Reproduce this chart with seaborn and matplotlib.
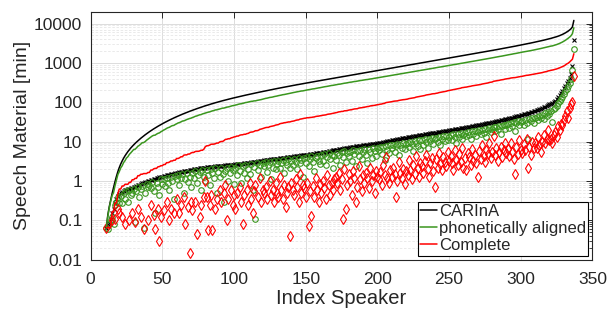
import numpy as np
import pandas as pd
import seaborn as sns
import matplotlib.pyplot as plt
from matplotlib.ticker import FixedLocator, LogLocator, NullFormatter, FuncFormatter

# speakers 1..10 have no material, first speaker shown is index 11
first_speaker = 11

# minutes per speaker, sorted by CARInA amount (rows of 10 speakers)
carina = [
    0.065, 0.07, 0.085, 0.11, 0.15, 0.2, 0.27, 0.35, 0.42, 0.47,
    0.5, 0.53, 0.56, 0.58, 0.6, 0.62, 0.64, 0.66, 0.68, 0.7,
    0.72, 0.75, 0.78, 0.81, 0.84, 0.87, 0.9, 0.93, 0.96, 0.99,
    1.02, 1.05, 1.08, 1.11, 1.14, 1.17, 1.2, 1.23, 1.27, 1.3,
    1.33, 1.36, 1.39, 1.42, 1.45, 1.48, 1.51, 1.54, 1.57, 1.6,
    1.63, 1.66, 1.69, 1.72, 1.75, 1.78, 1.81, 1.84, 1.87, 1.9,
    1.93, 1.96, 1.99, 2.02, 2.05, 2.08, 2.11, 2.14, 2.17, 2.2,
    2.22, 2.24, 2.26, 2.28, 2.3, 2.32, 2.34, 2.36, 2.38, 2.4,
    2.42, 2.44, 2.46, 2.48, 2.5, 2.52, 2.54, 2.56, 2.58, 2.6,
    2.63, 2.66, 2.69, 2.72, 2.75, 2.78, 2.81, 2.84, 2.87, 2.9,
    2.93, 2.96, 3.0, 3.04, 3.08, 3.12, 3.16, 3.2, 3.24, 3.28,
    3.32, 3.36, 3.4, 3.44, 3.48, 3.52, 3.56, 3.6, 3.64, 3.68,
    3.72, 3.76, 3.8, 3.84, 3.88, 3.92, 3.96, 4.0, 4.05, 4.1,
    4.15, 4.2, 4.25, 4.3, 4.35, 4.4, 4.45, 4.5, 4.55, 4.6,
    4.65, 4.7, 4.76, 4.82, 4.88, 4.94, 5.0, 5.07, 5.14, 5.21,
    5.28, 5.35, 5.43, 5.51, 5.6, 5.69, 5.78, 5.87, 5.96, 6.05,
    6.15, 6.25, 6.35, 6.45, 6.55, 6.65, 6.75, 6.85, 6.95, 7.05,
    7.15, 7.25, 7.35, 7.45, 7.55, 7.65, 7.75, 7.85, 7.95, 8.05,
    8.15, 8.25, 8.35, 8.45, 8.55, 8.65, 8.75, 8.85, 8.95, 9.05,
    9.2, 9.35, 9.5, 9.65, 9.8, 9.95, 10.1, 10.3, 10.5, 10.7,
    10.9, 11.1, 11.3, 11.5, 11.7, 11.9, 12.1, 12.3, 12.5, 12.7,
    12.9, 13.1, 13.3, 13.5, 13.7, 13.9, 14.1, 14.3, 14.5, 14.7,
    14.9, 15.1, 15.3, 15.5, 15.7, 15.9, 16.1, 16.3, 16.5, 16.7,
    16.9, 17.1, 17.3, 17.5, 17.8, 18.1, 18.4, 18.7, 19.0, 19.3,
    19.6, 19.9, 20.2, 20.5, 20.8, 21.1, 21.4, 21.7, 22.0, 22.3,
    22.6, 23.0, 23.4, 23.8, 24.2, 24.6, 25.0, 25.4, 25.8, 26.2,
    26.6, 27.0, 27.5, 28.0, 28.5, 29.0, 29.5, 30.0, 30.5, 31.0,
    31.6, 32.2, 32.8, 33.4, 34.0, 34.7, 35.4, 36.1, 36.8, 37.5,
    38.3, 39.1, 40.0, 41.0, 42.0, 43.0, 44.0, 45.0, 46.0, 47.0,
    48, 49, 50, 51, 52.5, 54, 55.5, 57, 58.5, 60,
    62, 64, 66, 68, 71, 74, 77, 80, 84, 88,
    93, 98, 104, 110, 120, 135, 150, 170, 195, 225,
    260, 300, 350, 420, 520, 850, 3800,
]

aligned = [
    0.065, 0.06, 0.08, 0.1, 0.12, 0.083, 0.24, 0.3, 0.4, 0.28,
    0.42, 0.28, 0.5, 0.35, 0.55, 0.3, 0.6, 0.45, 0.5, 0.62,
    0.09, 0.55, 0.7, 0.4, 0.62, 0.75, 0.063, 0.5, 0.85, 0.7,
    0.8, 0.65, 0.95, 0.55, 0.15, 0.9, 0.72, 0.45, 1.1, 0.85,
    1.1, 0.75, 1.2, 0.9, 0.6, 1.3, 1.0, 0.35, 1.35, 1.15,
    1.4, 0.8, 1.2, 1.5, 0.5, 1.1, 1.6, 0.95, 1.3, 0.7,
    1.6, 1.2, 1.8, 0.9, 1.4, 1.7, 0.6, 1.9, 1.3, 1.0,
    1.9, 1.4, 0.8, 2.0, 1.6, 1.2, 2.1, 0.5, 1.7, 1.3,
    2.1, 1.5, 0.3, 1.8, 2.2, 1.0, 1.6, 2.3, 1.9, 0.85,
    2.2, 1.4, 2.5, 1.8, 0.9, 2.4, 1.6, 2.6, 1.2, 2.0,
    1.5, 2.7, 0.6, 2.3, 0.11, 2.8, 1.9, 2.5, 1.3, 2.9,
    2.4, 3.0, 1.7, 2.6, 3.1, 1.1, 2.2, 3.3, 2.0, 2.7,
    3.2, 2.1, 2.9, 3.4, 1.6, 3.0, 2.5, 3.6, 2.2, 3.3,
    2.6, 3.7, 3.1, 2.0, 3.9, 2.8, 3.4, 1.3, 3.8, 2.9,
    4.0, 2.4, 3.6, 4.2, 3.0, 1.8, 3.9, 4.4, 3.2, 2.7,
    4.5, 3.3, 4.8, 2.5, 4.1, 5.0, 3.6, 4.7, 2.2, 4.3,
    3.5, 5.2, 4.6, 2.6, 5.5, 4.0, 5.8, 3.0, 5.1, 4.4,
    5.6, 3.2, 6.0, 4.8, 2.4, 5.9, 4.2, 6.3, 3.6, 5.3,
    6.4, 4.5, 2.8, 6.6, 5.4, 3.9, 6.9, 5.8, 4.3, 7.0,
    6.0, 7.4, 4.9, 7.1, 3.4, 7.8, 6.2, 5.2, 8.0, 6.8,
    8.3, 5.6, 7.6, 8.8, 4.6, 8.1, 7.0, 9.2, 6.4, 8.6,
    9.5, 7.2, 10.0, 8.7, 5.8, 10.3, 9.0, 7.8, 10.8, 6.5,
    11.0, 8.4, 12.0, 9.8, 7.0, 11.5, 10.2, 12.6, 8.9, 11.8,
    12.4, 10.0, 13.0, 8.0, 12.0, 13.6, 10.6, 14.0, 11.2, 13.2,
    14.5, 11.0, 15.2, 12.8, 9.0, 15.8, 13.5, 16.4, 12.0, 14.8,
    16.8, 13.6, 17.5, 15.0, 11.5, 18.2, 16.0, 19.0, 14.2, 17.6,
    19.5, 15.5, 20.2, 17.0, 21.0, 12.8, 19.8, 22.0, 18.0, 21.5,
    23.0, 18.5, 24.0, 20.5, 25.0, 16.0, 24.5, 26.5, 21.0, 27.0,
    28.0, 22.0, 29.5, 25.0, 31.0, 19.0, 30.5, 33.0, 26.0, 32.0,
    34.0, 27.0, 35.5, 30.0, 12.0, 37.0, 33.0, 39.0, 29.0, 40.0,
    42, 36, 45, 40, 48, 38, 52, 46, 55, 50,
    60, 32, 68, 72, 80, 95, 105, 120, 140, 165,
    190, 220, 260, 300, 380, 650, 2300,
]

# 0 = no complete recording for that speaker
complete = [
    0.065, 0, 0, 0, 0.1, 0, 0.11, 0, 0.2, 0.15,
    0, 0.12, 0, 0.08, 0, 0, 0.1, 0, 0.15, 0,
    0.09, 0, 0.2, 0, 0.12, 0, 0.06, 0, 0, 0.1,
    0, 0.25, 0, 0.14, 0.06, 0, 0.2, 0.03, 0.12, 0,
    0.18, 0, 0.3, 0, 0.1, 0.2, 0, 0.15, 0, 0.35,
    0, 0.15, 0.25, 0, 0.4, 0.08, 0, 0.22, 0.015, 0.3,
    0.18, 0, 0.3, 0.045, 0, 0.12, 0.25, 0, 0.4, 1.0,
    0.4, 0.056, 0.25, 0.45, 0.056, 0, 0.2, 0.35, 0, 0.6,
    0.3, 0, 0.5, 0.8, 0.1, 0.35, 0, 0.6, 0.25, 0.45,
    0.2, 0.5, 0, 0.7, 0.3, 0.08, 0.45, 0, 0.6, 0.25,
    0.9, 0.35, 0.15, 0.55, 0.8, 0, 0.4, 1.2, 0.3, 0.6,
    0.5, 0.7, 0.35, 0, 1.0, 0.45, 0.6, 0.3, 0.9, 0.5,
    0.4, 1.3, 0.6, 0.35, 0.8, 0.22, 0.5, 0.7, 0.04, 0.9,
    0.6, 0.45, 1.1, 0.7, 0.3, 1.5, 0.5, 0.8, 0.65, 0.4,
    0.9, 0.07, 0.55, 0.13, 0.75, 0.4, 1.2, 0.6, 0.3, 0.85,
    0.5, 1.0, 0.65, 0.35, 1.4, 0.8, 0.45, 0.9, 0.6, 1.1,
    1.3, 0.9, 1.6, 0.6, 1.1, 0.11, 2.0, 0.2, 0.8, 1.5,
    1.0, 0.45, 1.8, 1.2, 0.3, 0.7, 2.4, 1.1, 0.55, 1.4,
    0.9, 1.6, 1.2, 0.65, 2.2, 1.0, 1.4, 0.5, 1.8, 1.3,
    1.1, 1.7, 0.8, 2.5, 1.4, 4.0, 1.2, 0.9, 1.9, 1.3,
    2.2, 1.5, 0.4, 1.0, 3.0, 1.6, 1.2, 2.0, 0.85, 1.8,
    1.4, 3.5, 1.9, 1.1, 2.6, 1.5, 4.2, 2.1, 1.3, 2.8,
    2.4, 1.6, 3.2, 4.5, 2.0, 1.3, 2.9, 3.8, 1.8, 0.7,
    3.6, 2.2, 5.0, 2.7, 1.9, 4.1, 3.0, 2.4, 5.5, 3.3,
    4.2, 2.8, 1.9, 6.0, 3.5, 2.5, 4.8, 3.1, 7.0, 2.2,
    3.8, 1.9, 5.2, 4.0, 2.6, 6.5, 3.3, 4.6, 2.9, 1.25,
    5.8, 3.6, 8.0, 4.4, 3.0, 6.2, 4.9, 9.0, 3.8, 5.3,
    14.0, 4.6, 6.8, 3.2, 5.5, 7.4, 4.0, 6.0, 9.5, 5.0,
    6.5, 4.2, 9.0, 5.5, 3.6, 1.5, 7.2, 4.8, 11.0, 6.0,
    5.0, 8.5, 6.2, 12.0, 2.2, 7.5, 4.6, 10.0, 6.8, 9.0,
    7.0, 13.0, 8.0, 5.5, 10.0, 15.0, 9.0, 12.0, 20.0, 11.0,
    12, 9, 15, 18, 13, 25, 20, 28, 26, 35,
    45, 60, 40, 70, 90, 100, 470,
]

series = ["carina", "aligned", "complete"]
labels = ["CARInA", "phonetically aligned", "Complete"]
colors = ["black", "#3a961e", "red"]
markers = ["x", "o", "d"]

df = pd.DataFrame({"speaker": np.arange(first_speaker, first_speaker + len(carina)),
                   "carina": carina, "aligned": aligned, "complete": complete})

sns.set_style("white")
plt.rcParams["font.family"] = ["Liberation Sans", "DejaVu Sans"]
txt = "#262626"

fig = plt.figure(figsize=(6.1, 3.09), dpi=100)
ax = fig.add_axes([0.1485, 0.1595, 0.8228, 0.8026])
ax.set_yscale("log")

# single speakers as markers
msize = {"x": 3.2, "o": 4.0, "d": 4.6}
for col, c, m in zip(series, colors, markers):
    vals = df[col].where(df[col] > 0)
    sns.lineplot(x=df["speaker"], y=vals, ax=ax, color=c, linestyle="", marker=m,
                 markersize=msize[m], markerfacecolor="none", markeredgecolor=c,
                 markeredgewidth=0.8, legend=False)

# cumulated material
handles = []
for col, c, lab in zip(series, colors, labels):
    sns.lineplot(x=df["speaker"], y=df[col].cumsum(), ax=ax, color=c, lw=1.1, legend=False)
    handles.append(ax.lines[-1])

ax.set_xlim(0, 350)
ax.set_ylim(0.01, 2e4)
ax.set_xticks(range(0, 351, 50))
ax.yaxis.set_major_locator(FixedLocator([0.01, 0.1, 1, 10, 100, 1000, 10000]))
ax.yaxis.set_major_formatter(FuncFormatter(lambda v, p: f"{v:g}"))
ax.yaxis.set_minor_locator(LogLocator(base=10, subs=np.arange(2, 10), numticks=20))
ax.yaxis.set_minor_formatter(NullFormatter())

ax.grid(True, which="major", color="#dcdcdc", lw=0.7)
ax.grid(True, which="minor", axis="y", color="#e6e6e6", lw=0.6, ls=(0, (3, 2)))
ax.set_axisbelow(True)
ax.tick_params(which="both", direction="in", top=True, right=True, color=txt,
               labelcolor=txt, labelsize=12.5, pad=6)
ax.tick_params(axis="x", pad=9)
ax.tick_params(which="major", length=4, width=0.7)
ax.tick_params(which="minor", length=2, width=0.6)
for s in ax.spines.values():
    s.set_color(txt)
    s.set_linewidth(0.8)

ax.set_xlabel("Index Speaker", fontsize=14.5, color=txt, labelpad=1.5)
ax.set_ylabel("Speech Material [min]", fontsize=14, color=txt, labelpad=2)

leg = ax.legend(handles, labels, loc="lower right", fontsize=12, frameon=True,
                fancybox=False, edgecolor="black", framealpha=1, handlelength=1.0,
                handletextpad=0.1, borderpad=0.15, labelspacing=0.12, borderaxespad=0.25)
leg.get_frame().set_linewidth(0.8)

fig.savefig("out.png", dpi=100)
